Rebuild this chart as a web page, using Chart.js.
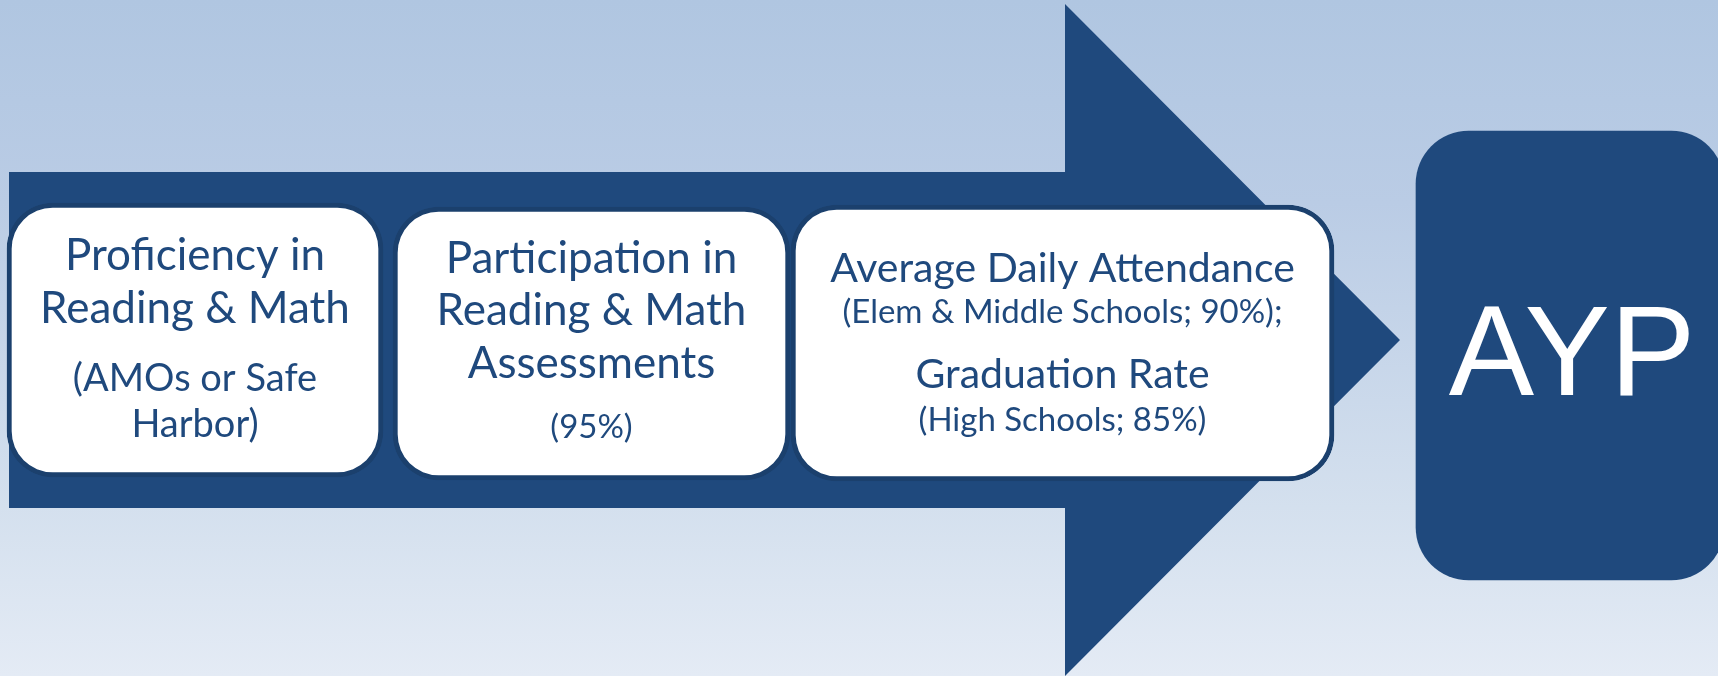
<!DOCTYPE html>
<html>
<head>
<meta charset="utf-8">
<title>AYP</title>
<script src="https://cdn.jsdelivr.net/npm/chart.js@4.4.1/dist/chart.umd.min.js"></script>
<style>
  html, body {
    margin: 0;
    padding: 0;
    overflow: hidden;
  }
  body {
    width: 1718px;
    height: 676px;
    background: linear-gradient(#b0c6e1 0%, #bacce5 30%, #d4e0ee 75%, #e4ebf5 100%);
  }
  canvas {
    display: block;
  }
</style>
</head>
<body>
<canvas id="chart" width="1718" height="676"></canvas>
<script>
// diagram units: 1 unit = 1 px, x to the right, y downwards
const arrowX = [9, 1065, 1065, 1400, 1065, 1065, 9];
const arrowY = [172, 172, 4, 340, 676, 508, 508];

const boxLeft = [7, 393, 791];
const boxRight = [383, 790, 1334];
const boxTop = [203, 207, 205];
const boxBottom = [477, 480, 481];

const boxLines = [
  ['Proficiency in', 'Reading & Math', '(AMOs or Safe', 'Harbor)'],
  ['Participation in', 'Reading & Math', 'Assessments', '(95%)'],
  ['Average Daily Attendance', '(Elem & Middle Schools; 90%);', 'Graduation Rate', '(High Schools; 85%)']
];

const goalLabel = 'AYP';
const goalLeft = 1416;
const goalRight = 1724;
const goalTop = 131;
const goalBottom = 580;

// text layout (baselines and font sizes for each line)
const lineBaselines = [
  [270, 323, 391, 437],
  [273, 325, 378, 438],
  [282, 323, 388, 431]
];
const lineSizes = [
  [44, 44, 38, 38],
  [44, 44, 44, 33],
  [41, 33, 41, 33]
];

const darkBlue = '#1f497d';
const borderBlue = '#1b406d';

function boxDataset(i) {
  return {
    type: 'bar',
    indexAxis: 'y',
    data: [{x: [boxLeft[i], boxRight[i]], y: (boxTop[i] + boxBottom[i]) / 2}],
    barThickness: boxBottom[i] - boxTop[i],
    grouped: false,
    backgroundColor: '#ffffff',
    borderColor: borderBlue,
    borderWidth: 5,
    borderSkipped: false,
    borderRadius: 46,
    order: 1
  };
}

const textPlugin = {
  id: 'boxText',
  afterDatasetsDraw(chart) {
    const {ctx} = chart;
    const {x, y} = chart.scales;
    ctx.save();
    ctx.textAlign = 'center';
    ctx.textBaseline = 'alphabetic';
    ctx.fillStyle = darkBlue;
    boxLines.forEach((lines, i) => {
      const cx = x.getPixelForValue((boxLeft[i] + boxRight[i]) / 2);
      lines.forEach((line, j) => {
        ctx.font = lineSizes[i][j] + 'px Lato';
        ctx.fillText(line, cx, y.getPixelForValue(lineBaselines[i][j]));
      });
    });

    ctx.fillStyle = '#ffffff';
    ctx.font = '128px "Liberation Sans"';
    ctx.fillText(goalLabel, x.getPixelForValue(1572), y.getPixelForValue(395));
    ctx.restore();
  }
};

function draw() {
  new Chart('chart', {
    type: 'bar',
    data: {
      datasets: [
        boxDataset(0),
        boxDataset(1),
        boxDataset(2),
        {
          type: 'bar',
          indexAxis: 'y',
          data: [{x: [goalLeft, goalRight], y: (goalTop + goalBottom) / 2}],
          barThickness: goalBottom - goalTop,
          grouped: false,
          backgroundColor: darkBlue,
          borderWidth: 0,
          borderSkipped: false,
          borderRadius: 53,
          order: 1
        },
        {
          type: 'line',
          data: arrowX.map((v, i) => ({x: v, y: arrowY[i]})),
          fill: 'shape',
          backgroundColor: darkBlue,
          borderColor: 'rgba(0,0,0,0)',
          borderWidth: 0,
          pointRadius: 0,
          tension: 0,
          order: 2
        }
      ]
    },
    options: {
      responsive: false,
      animation: false,
      events: [],
      layout: {padding: 0},
      scales: {
        x: {type: 'linear', min: 0, max: 1718, offset: false, display: false},
        y: {type: 'linear', min: 0, max: 676, reverse: true, offset: false, display: false}
      },
      plugins: {
        legend: {display: false},
        tooltip: {enabled: false},
        title: {display: false}
      }
    },
    plugins: [textPlugin]
  });
}

Promise.all([
  document.fonts.load('40px Lato'),
  document.fonts.load('128px "Liberation Sans"')
]).then(draw, draw);
</script>
</body>
</html>
